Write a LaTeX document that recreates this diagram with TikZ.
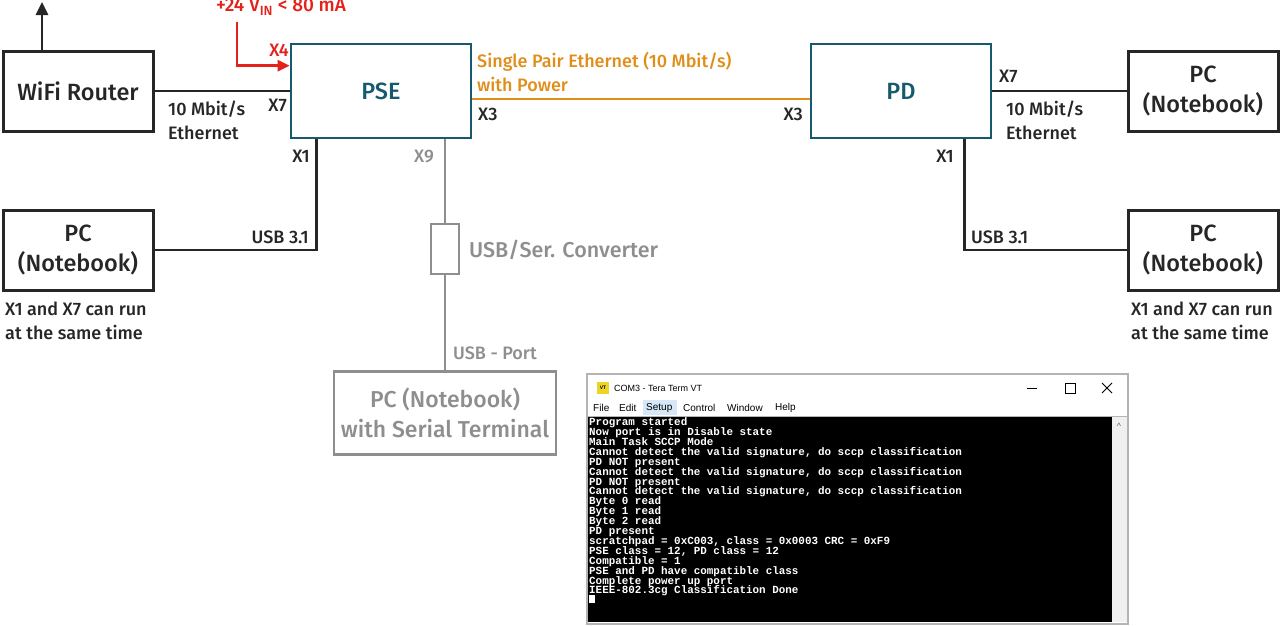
\documentclass[tikz,border=0pt]{standalone}
\usepackage{fontspec}
\IfFontExistsTF{Fira Sans Medium}{\setmainfont{Fira Sans Medium}}{\setmainfont{Fira Sans}[FakeBold=0.4]}
\newfontfamily\termfont{Liberation Mono}
\newfontfamily\winfont{Liberation Sans}
\newcommand\termstyle{\termfont\bfseries\fontsize{10.9}{9.9}\selectfont\lineskiplimit=-20pt\relax}
\usetikzlibrary{arrows.meta}
\usetikzlibrary{positioning}
\definecolor{darkline}{HTML}{262626}
\definecolor{pseteal}{HTML}{165A6E}
\definecolor{speorange}{HTML}{E08E1A}
\definecolor{pwrred}{HTML}{E3221B}
\definecolor{sergray}{HTML}{8E8E8E}
\definecolor{wingray}{HTML}{B4B4B4}
\definecolor{menublue}{HTML}{D6E8F8}

\begin{document}
\begin{tikzpicture}[x=1pt,y=-1pt,
		box/.style={rectangle,draw=darkline,line width=3pt,minimum width=150pt,minimum height=80pt,
			inner sep=0pt,align=center,text=darkline,font=\fontsize{23.5}{30}\selectfont},
		unit/.style={box,draw=pseteal,text=pseteal,minimum width=180pt,minimum height=94pt,line width=2.6pt},
		serbox/.style={box,draw=sergray,text=sergray,line width=2.2pt},
		wire/.style={draw=darkline,line width=2.6pt},
		serwire/.style={draw=sergray,line width=2.6pt},
		lbl/.style={inner sep=0pt,text=darkline,font=\fontsize{18}{23.5}\selectfont,align=left},
		serlbl/.style={lbl,text=sergray},
		menuitem/.style={inner sep=0pt,anchor=west,font=\winfont\fontsize{10}{12}\selectfont}]
	\useasboundingbox (0,0) rectangle (1280,625);

	% Boxes
	\node[box] (wifi) at (78,91) {WiFi Router};
	\node[unit] (pse) at (381,91) {PSE};
	\node[unit] (pd) at (901,91) {PD};
	\node[box] (pcleft) at (78,250) {PC\\(Notebook)};
	\node[box] (pcright) at (1203,91) {PC\\(Notebook)};
	\node[box] (pcrightb) at (1203,250) {PC\\(Notebook)};
	\node[serbox,minimum width=28pt,minimum height=50pt] (conv) at (445,249) {};
	\node[serbox,minimum width=222pt,minimum height=83pt,font=\fontsize{23}{30}\selectfont] (pcser) at (445,413) {PC (Notebook)\\with Serial Terminal};

	% Connections
	\coordinate (sky) at (42,2);
	\draw[wire,-{Triangle[length=13pt,width=12pt]}] (wifi.north -| sky) -- (sky);
	\draw[wire] (wifi.east) -- (pse.west);
	\coordinate (vin) at (237,22);
	\draw[draw=pwrred,line width=2.6pt,-{Triangle[length=12pt,width=11pt]}] (vin) |- ([yshift=-23pt]pse.north west);
	\draw[draw=speorange,line width=2.6pt] ([yshift=-8pt]pse.east) -- ([yshift=-8pt]pd.west);
	\draw[wire] ([xshift=27pt]pse.south west) |- (pcleft.east);
	\draw[serwire] (pse.south -| conv) -- (conv.north);
	\draw[serwire] (conv.south) -- (pcser.north);
	\draw[wire] (pd.east) -- (pcright.west);
	\draw[wire] ([xshift=-28pt]pd.south east) |- (pcrightb.west);

	% Labels
	\node[lbl,text=pwrred,font=\fontsize{19}{22}\selectfont,anchor=center] (vinlbl) at (281,7) {+24 V\textsubscript{IN} < 80 mA};
	\node[lbl,text=pwrred,anchor=east] (x4) at (289,50) {X4};
	\node[lbl,anchor=east] (psex7) at (287,105) {X7};
	\node[lbl,anchor=north west] (ethl) at (168,101) {10 Mbit/s\\Ethernet};
	\node[lbl,anchor=east] (psex1) at (310,156) {X1};
	\node[serlbl,anchor=east] (psex9) at (434,156) {X9};
	\node[lbl,anchor=east] (usbl) at (309,237) {USB 3.1};
	\node[lbl,anchor=north west] (notel) at (5,302) {X1 and X7 can run\\at the same time};
	\node[lbl,anchor=west] (psex3) at (478,114) {X3};
	\node[lbl,anchor=east] (pdx3) at (803,114) {X3};
	\node[lbl,text=speorange,anchor=north west] (spe) at (477,52) {Single Pair Ethernet (10 Mbit/s)\\with Power};
	\node[serlbl,font=\fontsize{21.5}{26}\selectfont,anchor=west] (convlbl) at (469,250) {USB/Ser. Converter};
	\node[serlbl,anchor=west] (portlbl) at (453,353) {USB - Port};
	\node[lbl,anchor=west] (pdx7) at (999,76) {X7};
	\node[lbl,anchor=north west] (ethr) at (1006,101) {10 Mbit/s\\Ethernet};
	\node[lbl,anchor=east] (pdx1) at (954,156) {X1};
	\node[lbl,anchor=west] (usbr) at (971,237) {USB 3.1};
	\node[lbl,anchor=north west] (noter) at (1131,302) {X1 and X7 can run\\at the same time};

	% Terminal window
	\draw[draw=wingray,line width=2pt,fill=white] (587,374) rectangle (1128,624);
	\fill[fill=menublue] (643,400) rectangle (677,415);
	\draw[draw=wingray,line width=0.8pt] (588,416) -- (1127,416);
	\fill[fill=black] (588,417) rectangle (1112,622);
	\fill[fill=black!6] (1112,417) rectangle (1127,622);
	\node[inner sep=0pt,text=black!60,font=\winfont\fontsize{9}{9}\selectfont] (scrollup) at (1119,426) {\^{}};
	\fill[fill=yellow!70!brown] (597,382) rectangle (609,394);
	\node[inner sep=0pt,font=\winfont\bfseries\fontsize{5}{5}\selectfont] (vticon) at (603,388) {VT};
	\node[inner sep=0pt,anchor=west,font=\winfont\fontsize{9}{12}\selectfont] (wintitle) at (614,388) {COM3 - Tera Term VT};
	\draw[line width=0.8pt] (1027,388) -- (1037,388);
	\draw[line width=0.8pt] (1065,383) rectangle (1075,393);
	\draw[line width=0.8pt] (1102,383) -- (1112,393) (1102,393) -- (1112,383);
	\node[menuitem] (mfile) at (593,408) {File};
	\node[menuitem] (medit) at (619,408) {Edit};
	\node[menuitem] (msetup) at (646,408) {Setup};
	\node[menuitem] (mcontrol) at (683,408) {Control};
	\node[menuitem] (mwindow) at (727,408) {Window};
	\node[menuitem] (mhelp) at (775,408) {Help};
	\node[inner sep=0pt,anchor=north west,align=left,text=white,font=\termstyle] (log) at (589,417.5) {%
		Program started\\
		Now port is in Disable state\\
		Main Task SCCP Mode\\
		Cannot detect the valid signature, do sccp classification\\
		PD NOT present\\
		Cannot detect the valid signature, do sccp classification\\
		PD NOT present\\
		Cannot detect the valid signature, do sccp classification\\
		Byte 0 read\\
		Byte 1 read\\
		Byte 2 read\\
		PD present\\
		scratchpad = 0xC003, class = 0x0003 CRC = 0xF9\\
		PSE class = 12, PD class = 12\\
		Compatible = 1\\
		PSE and PD have compatible class\\
		Complete power up port\\
		IEEE-802.3cg Classification Done};
	\fill[fill=white] (589,595) rectangle (595,603);
\end{tikzpicture}
\end{document}
